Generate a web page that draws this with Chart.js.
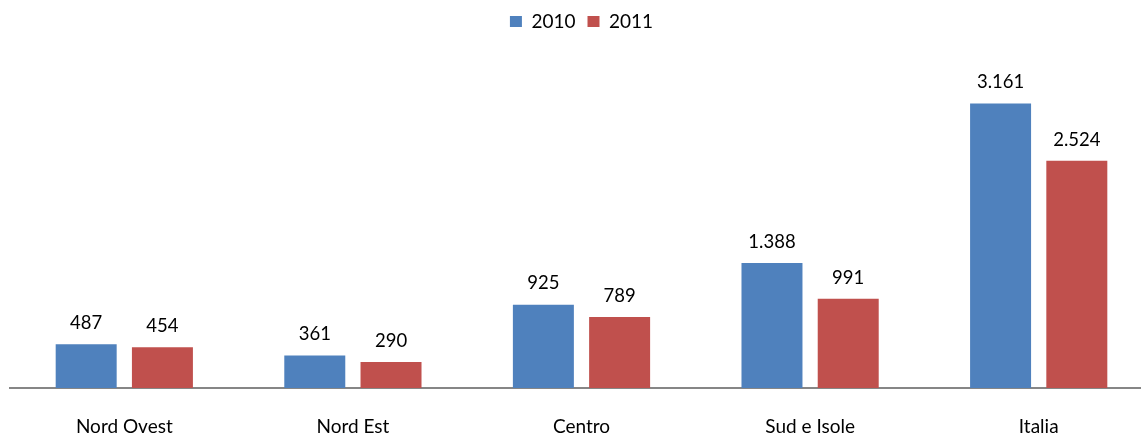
<!DOCTYPE html>
<html>
<head>
<meta charset="utf-8">
<script src="https://cdn.jsdelivr.net/npm/chart.js@4/dist/chart.umd.min.js"></script>
<style>
  html, body { margin: 0; padding: 0; background: #fff; overflow: hidden; }
  /* l'asse nell'originale prosegue oltre il bordo destro */
  #wrap { width: 1153px; height: 434px; }
</style>
</head>
<body>
<div id="wrap"><canvas id="chart"></canvas></div>
<script>
// dati
const categorie = ["Nord Ovest", "Nord Est", "Centro", "Sud e Isole", "Italia"];
const valori2010 = [487, 361, 925, 1388, 3161];
const valori2011 = [454, 290, 789, 991, 2524];

// numeri con il punto delle migliaia
function formatta(n) {
  return n.toLocaleString("it-IT");
}

// etichette sopra le barre
const etichette = {
  id: "etichette",
  afterDatasetsDraw(chart) {
    const ctx = chart.ctx;
    ctx.save();
    ctx.font = "18.5px Lato";
    ctx.fillStyle = "#000";
    ctx.textAlign = "center";
    ctx.textBaseline = "bottom";
    chart.data.datasets.forEach((ds, i) => {
      const meta = chart.getDatasetMeta(i);
      meta.data.forEach((bar, j) => {
        ctx.fillText(formatta(ds.data[j]), bar.x, bar.y - 12);
      });
    });
    ctx.restore();
  },
};

// altezza fissa della legenda, cosi' l'area del grafico parte piu' in basso
const spazioLegenda = {
  id: "spazioLegenda",
  beforeInit(chart) {
    const fitOrig = chart.legend.fit;
    chart.legend.fit = function () {
      fitOrig.bind(chart.legend)();
      this.height = 73;
    };
  },
};

function init() {
  const ctx = document.getElementById("chart").getContext("2d");

  let dati = {
    labels: categorie,
    datasets: [
      {
        label: "2010",
        data: valori2010,
        backgroundColor: "#4F81BD",
        categoryPercentage: 0.667,
        barPercentage: 0.8,
      },
      {
        label: "2011",
        data: valori2011,
        backgroundColor: "#C0504D",
        categoryPercentage: 0.667,
        barPercentage: 0.8,
      },
    ],
  };

  let opzioni = {
    responsive: true,
    maintainAspectRatio: false,
    animation: false,
    layout: { padding: { left: 10, right: 0, top: 0, bottom: 0 } },
    plugins: {
      legend: {
        position: "top",
        labels: {
          font: { family: "Lato", size: 19 },
          color: "#000",
          boxWidth: 12,
          boxHeight: 11,
          padding: 12,
        },
      },
      tooltip: { enabled: false },
    },
    scales: {
      x: {
        grid: { display: false, drawTicks: false },
        border: { display: true, color: "#868686", width: 2 },
        ticks: { font: { family: "Lato", size: 19 }, color: "#000", padding: 27 },
        afterFit: (s) => {
          s.height = 46;
        },
      },
      y: {
        display: false,
        min: 0,
        max: 3500,
      },
    },
  };

  new Chart(ctx, {
    type: "bar",
    data: dati,
    options: opzioni,
    plugins: [etichette, spazioLegenda],
  });
}

init();
</script>
</body>
</html>
